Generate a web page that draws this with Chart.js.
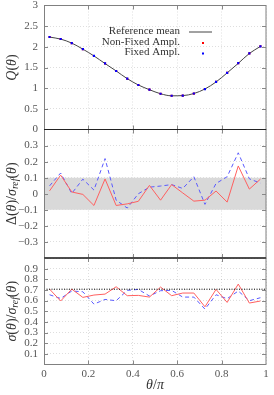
<!DOCTYPE html>
<html><head><meta charset="utf-8">
<script src="https://cdn.jsdelivr.net/npm/chart.js@4"></script>
<style>
html,body{margin:0;padding:0;background:#fff;}
#wrap{position:relative;width:274px;height:395px;overflow:hidden;}
canvas{position:absolute;left:0;top:0;}
</style></head><body>
<div id="wrap">
<canvas id="c1" width="274" height="395"></canvas>
<canvas id="c2" width="274" height="395"></canvas>
<canvas id="c3" width="274" height="395"></canvas>
</div>
<script>
// ---- data ----
const thetaPi = [0.025,0.075,0.125,0.175,0.225,0.275,0.325,0.375,0.425,0.475,0.525,0.575,0.625,0.675,0.725,0.775,0.825,0.875,0.925,0.975];
const refMean = [2.236,2.187,2.09,1.944,1.78,1.595,1.417,1.23,1.077,0.963,0.865,0.815,0.82,0.87,0.98,1.15,1.37,1.60,1.84,2.01];
const qNonFixed = [2.238,2.188,2.091,1.944,1.779,1.597,1.416,1.229,1.076,0.965,0.864,0.816,0.82,0.869,0.979,1.151,1.369,1.606,1.842,2.013];
const qFixed = [2.239,2.189,2.091,1.946,1.78,1.6,1.416,1.23,1.077,0.964,0.865,0.816,0.821,0.872,0.978,1.152,1.371,1.607,1.842,2.012];
const deltaNonFixed = [0.018,0.116,0.011,-0.004,-0.073,0.092,-0.073,-0.063,-0.047,0.052,-0.04,0.057,0.005,-0.046,-0.04,0.017,-0.052,0.173,0.029,0.091];
const deltaFixed = [0.049,0.129,0.002,0.091,0.023,0.219,-0.04,-0.089,0.0,0.041,0.048,0.057,0.033,0.106,-0.066,0.064,0.106,0.255,0.093,0.066];
const sigmaNonFixed = [0.708,0.596,0.708,0.63,0.652,0.661,0.73,0.646,0.649,0.633,0.727,0.646,0.671,0.671,0.542,0.705,0.583,0.755,0.577,0.596];
const sigmaFixed = [0.655,0.62,0.69,0.683,0.567,0.611,0.599,0.696,0.705,0.643,0.693,0.696,0.633,0.633,0.52,0.655,0.618,0.69,0.599,0.627];
const bandLimit = [0.1, -0.1];
const sigmaRefLine = 0.7071;
const xTicks = [0, 0.2, 0.4, 0.6, 0.8, 1];
const legendLabels = ['Reference mean', 'Non-Fixed Ampl.', 'Fixed Ampl.'];

const SERIF = '"Liberation Serif", "DejaVu Serif", serif';
const RED_LINE = '#ff6060', BLUE_LINE = '#5a5aff';
const GRID = 'rgba(0,0,0,0.13)';
const pts = arr => thetaPi.map((x, i) => ({x, y: arr[i]}));
const fmt = v => { let s = String(Number(v.toFixed(2))); return s.replace('-', '\u2212'); };

function drawRich(ctx, parts, size) {
  let total = 0;
  parts.forEach(p => { ctx.font = (p[1] ? 'italic ' : '') + (p[2] ? size * 0.7 : size) + 'px ' + SERIF; total += ctx.measureText(p[0]).width; });
  let x = -total / 2;
  parts.forEach(p => {
    ctx.font = (p[1] ? 'italic ' : '') + (p[2] ? size * 0.7 : size) + 'px ' + SERIF;
    ctx.fillText(p[0], x, p[2] ? size * 0.25 : 0);
    x += ctx.measureText(p[0]).width;
  });
}

function framePlugin(cfg) {
  return {
    id: 'frame',
    afterDraw(chart) {
      const ctx = chart.ctx, a = chart.chartArea;
      ctx.save();
      ctx.strokeStyle = '#888'; ctx.lineWidth = 1;
      const ys = chart.scales.y, xs = chart.scales.x;
      ys.ticks.forEach(t => {
        if (t.value <= ys.min + 1e-9 || t.value >= ys.max - 1e-9) return;
        const py = Math.round(ys.getPixelForValue(t.value)) + 0.5;
        ctx.beginPath(); ctx.moveTo(a.left, py); ctx.lineTo(a.left + 4, py);
        ctx.moveTo(a.right, py); ctx.lineTo(a.right - 4, py); ctx.stroke();
      });
      xs.ticks.forEach(t => {
        if (t.value <= xs.min + 1e-9 || t.value >= xs.max - 1e-9) return;
        const px = Math.round(xs.getPixelForValue(t.value)) + 0.5;
        ctx.beginPath(); ctx.moveTo(px, a.bottom); ctx.lineTo(px, a.bottom - 4);
        ctx.moveTo(px, a.top); ctx.lineTo(px, a.top + 4); ctx.stroke();
      });
      ctx.strokeStyle = '#808080';
      ctx.strokeRect(a.left + 0.5, a.top, a.right - a.left - 0.5, a.bottom - a.top);
      ctx.strokeStyle = '#222'; ctx.lineWidth = 1;
      if (cfg.darkTop) { ctx.beginPath(); ctx.moveTo(a.left, a.top); ctx.lineTo(a.right, a.top); ctx.stroke(); }
      if (cfg.darkBottom) { ctx.beginPath(); ctx.moveTo(a.left, a.bottom); ctx.lineTo(a.right, a.bottom); ctx.stroke(); }
      ctx.fillStyle = '#333'; ctx.textBaseline = 'middle'; ctx.textAlign = 'left';
      ctx.save();
      ctx.translate(12, (a.top + a.bottom) / 2);
      ctx.rotate(-Math.PI / 2);
      drawRich(ctx, cfg.title, 14);
      ctx.restore();
      if (cfg.xTitle) {
        ctx.save(); ctx.translate((a.left + a.right) / 2, 385);
        drawRich(ctx, cfg.xTitle, 14); ctx.restore();
      }
      if (cfg.legend) {
        ctx.font = '11px ' + SERIF; ctx.textAlign = 'right'; ctx.fillStyle = '#333';
        const tx = a.left + 136, ty = a.top + 26, dy = 10.5;
        legendLabels.forEach((l, i) => ctx.fillText(l, tx, ty + i * dy));
        ctx.strokeStyle = '#444'; ctx.lineWidth = 1;
        ctx.beginPath(); ctx.moveTo(tx + 9, ty + 0.5); ctx.lineTo(tx + 32, ty + 0.5); ctx.stroke();
        ctx.fillStyle = '#ff0000'; ctx.fillRect(tx + 22, ty + dy, 2, 2);
        ctx.fillStyle = '#0000ff'; ctx.fillRect(tx + 22, ty + 2 * dy, 2, 2);
      }
      ctx.restore();
    }
  };
}

function makeChart(id, top, bottomPad, xHeight, yMin, yMax, yStep, labelFilter, datasets, cfg) {
  return new Chart(document.getElementById(id), {
    type: 'line',
    data: { datasets },
    options: {
      responsive: false, animation: false, events: [],
      layout: { padding: { top: top, bottom: bottomPad, left: 0, right: 8 } },
      plugins: { legend: { display: false }, tooltip: { enabled: false } },
      scales: {
        x: {
          type: 'linear', min: 0, max: 1,
          afterBuildTicks: s => { s.ticks = xTicks.map(v => ({value: v})); },
          grid: { color: GRID, drawTicks: false, lineWidth: 1 },
          border: { display: false, dash: [1, 2] },
          ticks: { display: !!cfg.xLabels, autoSkip: false, padding: 3, color: '#555', font: { family: SERIF, size: 11 }, callback: v => fmt(v), maxRotation: 0 },
          afterFit: s => { s.height = xHeight; s.paddingLeft = 0; s.paddingRight = 0; }
        },
        y: {
          type: 'linear', min: yMin, max: yMax,
          ticks: { stepSize: yStep, autoSkip: false, padding: 6, color: '#555', font: { family: SERIF, size: 11 },
            callback: v => labelFilter(v) ? fmt(v) : '' },
          grid: { color: GRID, drawTicks: false, lineWidth: 1 },
          border: { display: false, dash: [1, 2] },
          afterFit: s => { s.width = 44; s.paddingTop = 0; s.paddingBottom = 0; }
        }
      }
    },
    plugins: [framePlugin(cfg)]
  });
}

const pointDs = (data, color) => ({ data: pts(data), showLine: false, pointStyle: 'rect', pointRadius: 1.5, pointBorderWidth: 0, pointBackgroundColor: color, borderColor: color });
const lineDs = (data, color, dash) => ({ data: pts(data), borderColor: color, borderWidth: 1, borderDash: dash || [], pointRadius: 0, tension: 0 });

// Panel 1
makeChart('c1', 5.5, 395 - 129.5, 0, 0, 3, 0.5, v => true, [
  pointDs(qFixed, '#0000ff'),
  pointDs(qNonFixed, '#ff0000'),
  { data: pts(refMean), borderColor: '#444', borderWidth: 1, pointRadius: 0, cubicInterpolationMode: 'monotone' }
], { title: [['Q', true], ['(', false], ['θ', true], [')', false]], darkBottom: true, legend: true });

// Panel 2
makeChart('c2', 129.5, 395 - 258, 0, -0.4, 0.4, 0.1, v => Math.abs(v) < 0.35, [
  lineDs(deltaNonFixed, RED_LINE),
  lineDs(deltaFixed, BLUE_LINE, [4, 3]),
  { data: [{x: 0, y: bandLimit[0]}, {x: 1, y: bandLimit[0]}], borderWidth: 0, pointRadius: 0, fill: '+1', backgroundColor: '#d9d9d9' },
  { data: [{x: 0, y: bandLimit[1]}, {x: 1, y: bandLimit[1]}], borderWidth: 0, pointRadius: 0, fill: false }
], { title: [['Δ', false], ['(', false], ['θ', true], [')/', false], ['σ', true], ['ref', true, true], ['(', false], ['θ', true], [')', false]], darkTop: true, darkBottom: true });

// Panel 3
makeChart('c3', 258, 0, 395 - 364.5, 0, 1, 0.1, v => v > 0.05 && v < 0.95, [
  { data: [{x: 0, y: sigmaRefLine}, {x: 1, y: sigmaRefLine}], borderColor: '#000', borderWidth: 1, borderDash: [1, 1.5], pointRadius: 0 },
  lineDs(sigmaNonFixed, RED_LINE),
  lineDs(sigmaFixed, BLUE_LINE, [4, 3])
], { title: [['σ', true], ['(', false], ['θ', true], [')/', false], ['σ', true], ['ref', true, true], ['(', false], ['θ', true], [')', false]], darkTop: true, xTitle: [['θ', true], ['/', false], ['π', true]], xLabels: true });
</script>
</body></html>
